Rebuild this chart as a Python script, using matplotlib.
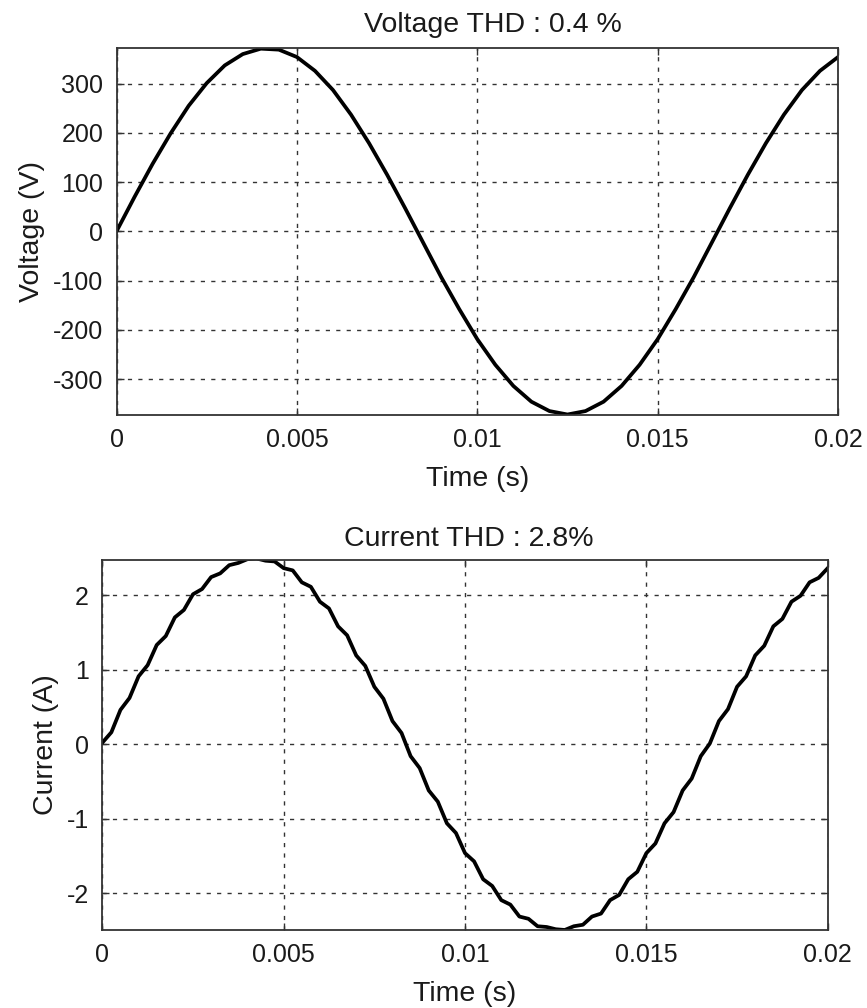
import matplotlib.pyplot as plt

# time axis (s)
t_v = [0.0, 0.0005, 0.001, 0.0015, 0.002, 0.0025, 0.003, 0.0035, 0.004, 0.0045,
       0.005, 0.0055, 0.006, 0.0065, 0.007, 0.0075, 0.008, 0.0085, 0.009, 0.0095,
       0.01, 0.0105, 0.011, 0.0115, 0.012, 0.0125, 0.013, 0.0135, 0.014, 0.0145,
       0.015, 0.0155, 0.016, 0.0165, 0.017, 0.0175, 0.018, 0.0185, 0.019, 0.0195, 0.02]
voltage = [0, 70, 137, 199, 255, 301, 337, 360, 371, 369,
           354, 326, 287, 237, 179, 115, 47, -23, -93, -158,
           -219, -271, -314, -346, -365, -372, -365, -346, -314, -271,
           -219, -158, -93, -23, 47, 115, 179, 237, 287, 326, 354]

t_i = [k * 0.00025 for k in range(81)]
current = [0.02, 0.16, 0.46, 0.62, 0.91, 1.06, 1.33, 1.45, 1.70, 1.80,
           2.01, 2.08, 2.24, 2.29, 2.40, 2.43, 2.48, 2.49, 2.46, 2.45,
           2.36, 2.33, 2.17, 2.11, 1.91, 1.82, 1.58, 1.46, 1.19, 1.05,
           0.77, 0.61, 0.31, 0.15, -0.16, -0.32, -0.62, -0.77, -1.06, -1.19,
           -1.46, -1.57, -1.81, -1.90, -2.09, -2.15, -2.31, -2.34, -2.44, -2.45,
           -2.48, -2.49, -2.44, -2.42, -2.31, -2.27, -2.09, -2.02, -1.81, -1.71,
           -1.46, -1.33, -1.06, -0.91, -0.62, -0.46, -0.16, 0.01, 0.31, 0.47,
           0.77, 0.91, 1.19, 1.32, 1.58, 1.68, 1.91, 1.99, 2.17, 2.23, 2.36]

x_ticks = [0, 0.005, 0.01, 0.015, 0.02]
x_labels = ['0', '0.005', '0.01', '0.015', '0.02']
v_ticks = [-300, -200, -100, 0, 100, 200, 300]
i_ticks = [-2, -1, 0, 1, 2]

plt.rcParams['font.family'] = ['Liberation Sans', 'DejaVu Sans']
plt.rcParams['font.size'] = 18
plt.rcParams['axes.unicode_minus'] = False
plt.rcParams['text.color'] = '#1a1a1a'
plt.rcParams['axes.labelcolor'] = '#1a1a1a'

fig = plt.figure(figsize=(8.67, 10.08), dpi=100)
ax1 = fig.add_axes([0.1344, 0.5883, 0.8322, 0.3644])
ax2 = fig.add_axes([0.1180, 0.0774, 0.8367, 0.3671])


def style(ax):
    ax.grid(True, color='#333333', linestyle=(0, (3, 4.5)), linewidth=1.0)
    for s in ax.spines.values():
        s.set_color('#333333')
        s.set_linewidth(1.3)
    ax.tick_params(direction='in', length=5, width=1, color='#333333',
                   labelcolor='#1a1a1a', labelsize=18, top=True, right=True, pad=9.5)
    ax.set_xticks(x_ticks)
    ax.set_xticklabels(x_labels)
    ax.set_xlim(0, 0.02)


# Voltage
ax1.plot(t_v, voltage, color='black', linewidth=2.7)
style(ax1)
ax1.set_yticks(v_ticks)
ax1.set_ylim(-373, 373)
ax1.set_title('Voltage THD : 0.4 %', x=0.522, pad=11, fontsize=20.5)
ax1.set_xlabel('Time (s)', labelpad=10, fontsize=20.5)
ax1.set_ylabel('Voltage (V)', labelpad=6, fontsize=20.5)

# Current
ax2.plot(t_i, current, color='black', linewidth=2.7)
style(ax2)
ax2.set_yticks(i_ticks)
ax2.set_ylim(-2.49, 2.47)
ax2.set_title('Current THD : 2.8%', x=0.5055, pad=10, fontsize=20.5)
ax2.set_xlabel('Time (s)', labelpad=10, fontsize=20.5)
ax2.set_ylabel('Current (A)', labelpad=5.5, fontsize=20.5)

plt.savefig('out.png', dpi=100)
